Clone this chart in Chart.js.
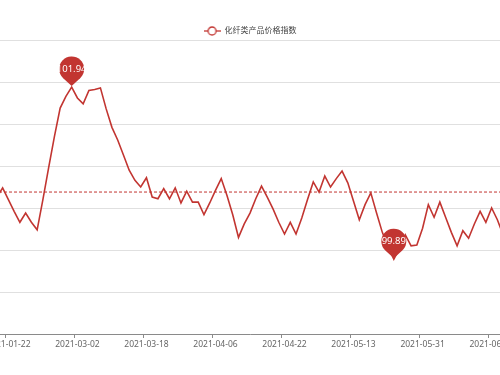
<!DOCTYPE html>
<html>
<head>
<meta charset="utf-8">
<script src="https://cdn.jsdelivr.net/npm/chart.js@4.4.1/dist/chart.umd.min.js"></script>
<style>
  html, body { margin: 0; padding: 0; background: #fff; overflow: hidden; width: 500px; height: 375px; }
  /* the plot runs past both edges of the picture, as in the reference */
  #wrap { position: absolute; left: -6px; top: 0; width: 512px; height: 375px; }
</style>
</head>
<body>
<div id="wrap"><canvas id="myChart"></canvas></div>
<script>
// Datos de la serie
const seriesName = "化纤类产品价格指数";

const dates = [
  "2021-01-20", "2021-01-21", "2021-01-22", "2021-01-26", "2021-01-28", "2021-02-01", "2021-02-03",
  "2021-02-05", "2021-02-08", "2021-02-10", "2021-02-19", "2021-02-23", "2021-02-25", "2021-03-01",
  "2021-03-02", "2021-03-03", "2021-03-04", "2021-03-05", "2021-03-08", "2021-03-09", "2021-03-10",
  "2021-03-11", "2021-03-12", "2021-03-15", "2021-03-16", "2021-03-17", "2021-03-18", "2021-03-19",
  "2021-03-22", "2021-03-23", "2021-03-24", "2021-03-25", "2021-03-26", "2021-03-29", "2021-03-30",
  "2021-03-31", "2021-04-01", "2021-04-02", "2021-04-06", "2021-04-07", "2021-04-08", "2021-04-09",
  "2021-04-12", "2021-04-13", "2021-04-14", "2021-04-15", "2021-04-16", "2021-04-19", "2021-04-20",
  "2021-04-21", "2021-04-22", "2021-04-23", "2021-04-26", "2021-04-27", "2021-04-28", "2021-04-29",
  "2021-04-30", "2021-05-06", "2021-05-07", "2021-05-10", "2021-05-11", "2021-05-12", "2021-05-13",
  "2021-05-14", "2021-05-17", "2021-05-18", "2021-05-19", "2021-05-20", "2021-05-21", "2021-05-24",
  "2021-05-25", "2021-05-26", "2021-05-27", "2021-05-28", "2021-05-31", "2021-06-01", "2021-06-02",
  "2021-06-03", "2021-06-04", "2021-06-07", "2021-06-08", "2021-06-09", "2021-06-10", "2021-06-11",
  "2021-06-15", "2021-06-16", "2021-06-17", "2021-06-18", "2021-06-21"
];

const values = [
  100.63, 100.74, 100.60, 100.46, 100.33, 100.44, 100.33, 100.24, 100.60, 100.98,
  101.35, 101.69, 101.83, 101.94, 101.81, 101.74, 101.90, 101.91, 101.93, 101.68,
  101.46, 101.31, 101.13, 100.95, 100.83, 100.75, 100.86, 100.63, 100.61, 100.73,
  100.61, 100.74, 100.56, 100.70, 100.57, 100.57, 100.42, 100.56, 100.71, 100.85,
  100.65, 100.42, 100.15, 100.31, 100.44, 100.61, 100.76, 100.63, 100.49, 100.33,
  100.19, 100.33, 100.19, 100.38, 100.60, 100.81, 100.69, 100.88, 100.75, 100.85,
  100.94, 100.80, 100.58, 100.36, 100.54, 100.68, 100.44, 100.21, 100.04, 99.89,
  100.02, 100.18, 100.05, 100.06, 100.26, 100.54, 100.39, 100.57, 100.39, 100.21,
  100.05, 100.23, 100.14, 100.31, 100.46, 100.33, 100.50, 100.36, 100.18
];

// Etiquetas visibles del eje X
const tickLabels = [
  "2021-01-22", "2021-03-02", "2021-03-18", "2021-04-06",
  "2021-04-22", "2021-05-13", "2021-05-31", "2021-06-17"
];

// Línea de promedio
const averageValue = 100.69;

const yMin = 99;
const yMax = 102.5;
const yStep = 0.5;

const lineColor = "#c23531";
const fontFamily = '"Noto Sans", "Noto Sans CJK SC", sans-serif';

// Icono de la leyenda: línea con círculo hueco
const legendIcon = document.createElement("canvas");
legendIcon.width = 17;
legendIcon.height = 10;
const g = legendIcon.getContext("2d");
g.strokeStyle = lineColor;
g.lineWidth = 1.3;
g.beginPath();
g.moveTo(0, 5);
g.lineTo(17, 5);
g.stroke();
g.beginPath();
g.arc(8.5, 5, 4, 0, Math.PI * 2);
g.fillStyle = "#fff";
g.fill();
g.stroke();

// Dibuja un "pin" con el valor
function drawPin(ctx, x, tipY, text) {
  const r = 12.5;
  const cy = tipY - 17;
  const theta = Math.acos(r / (tipY - cy));
  ctx.save();
  ctx.fillStyle = lineColor;
  ctx.beginPath();
  ctx.moveTo(x, tipY);
  ctx.arc(x, cy, r, Math.PI / 2 + theta, Math.PI / 2 - theta + Math.PI * 2, false);
  ctx.closePath();
  ctx.fill();
  ctx.fillStyle = "#fff";
  ctx.font = "9.5px " + fontFamily;
  ctx.textAlign = "center";
  ctx.textBaseline = "middle";
  ctx.fillText(text, x, cy + 0.5);
  ctx.restore();
}

const marksPlugin = {
  id: "marks",
  afterInit(chart) {
    // leyenda más baja para que la rejilla empiece en y=40
    const legend = chart.legend;
    const fit = legend.fit.bind(legend);
    legend.fit = function () {
      fit();
      this.height = 14;
    };
  },
  beforeDatasetsDraw(chart) {
    const { ctx, chartArea, scales } = chart;
    const y = scales.y.getPixelForValue(averageValue);
    ctx.save();
    ctx.strokeStyle = lineColor;
    ctx.lineWidth = 1;
    ctx.setLineDash([3, 2]);
    ctx.beginPath();
    ctx.moveTo(chartArea.left, y);
    ctx.lineTo(chartArea.right, y);
    ctx.stroke();
    ctx.restore();
  },
  afterDatasetsDraw(chart) {
    const meta = chart.getDatasetMeta(0);
    const maxIdx = values.indexOf(Math.max(...values));
    const minIdx = values.indexOf(Math.min(...values));
    [maxIdx, minIdx].forEach((i) => {
      const pt = meta.data[i];
      drawPin(chart.ctx, pt.x, pt.y - 1, values[i].toFixed(2));
    });
  },
};

const ctx = document.getElementById("myChart").getContext("2d");
new Chart(ctx, {
  type: "line",
  data: {
    labels: dates,
    datasets: [
      {
        label: seriesName,
        data: values,
        borderColor: lineColor,
        borderWidth: 1.6,
        pointRadius: 0,
        tension: 0,
        fill: false,
      },
    ],
  },
  options: {
    responsive: true,
    maintainAspectRatio: false,
    animation: false,
    layout: { padding: { top: 26, left: 0, right: 0, bottom: 0 }, autoPadding: false },
    plugins: {
      legend: {
        position: "top",
        labels: {
          usePointStyle: true,
          pointStyleWidth: 17,
          boxHeight: 8,
          padding: 1,
          color: "#444",
          font: { size: 8, family: fontFamily },
          generateLabels: () => [
            {
              text: seriesName,
              pointStyle: legendIcon,
              fillStyle: "#fff",
              strokeStyle: lineColor,
              lineWidth: 0,
              hidden: false,
              datasetIndex: 0,
              fontColor: "#444",
            },
          ],
        },
      },
      tooltip: { enabled: false },
    },
    scales: {
      x: {
        offset: true,
        grid: {
          offset: true,
          drawOnChartArea: false,
          drawTicks: true,
          tickLength: 4,
          color: (c) => (tickLabels.includes(dates[c.index]) ? "#8a8a8a" : "rgba(0,0,0,0)"),
        },
        border: { color: "#8a8a8a", width: 1 },
        ticks: {
          autoSkip: false,
          maxRotation: 0,
          minRotation: 0,
          padding: 1,
          color: "#666",
          font: { size: 8.5, family: fontFamily },
          callback: (v, i) => (tickLabels.includes(dates[i]) ? dates[i] : ""),
        },
        afterFit: (s) => { s.height = 41; },
      },
      y: {
        min: yMin,
        max: yMax,
        ticks: { stepSize: yStep, display: false },
        grid: { color: "#e0e0e0", drawTicks: false },
        border: { display: false },
        afterFit: (s) => { s.width = 0; },
      },
    },
  },
  plugins: [marksPlugin],
});
</script>
</body>
</html>
